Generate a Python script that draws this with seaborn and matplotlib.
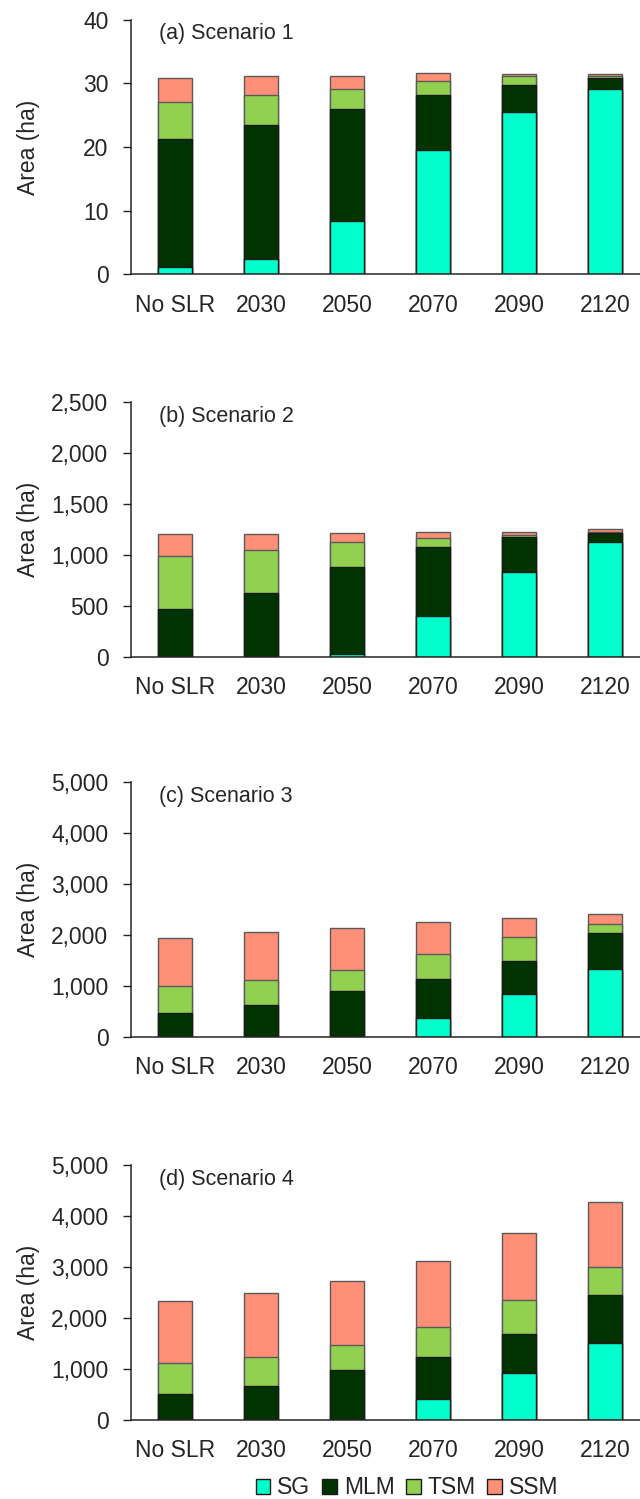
import numpy as np
import pandas as pd
import matplotlib
matplotlib.use("Agg")
import matplotlib.pyplot as plt
from matplotlib.ticker import FuncFormatter, MultipleLocator
from matplotlib.patches import Patch
import seaborn as sns

sns.set_style("ticks")
plt.rcParams["font.family"] = ["Liberation Sans", "DejaVu Sans"]

# Time steps along the x axis
periods = ["No SLR", "2030", "2050", "2070", "2090", "2120"]

# Habitat classes (stacked bottom to top)
classes = ["SG", "MLM", "TSM", "SSM"]
class_colors = {"SG": "#00FFCC", "MLM": "#003300", "TSM": "#92D050", "SSM": "#FF9077"}

# Area (ha) of each class per period, one block per scenario
s1_sg = [1.2, 2.4, 8.4, 19.6, 25.5, 29.1]
s1_mlm = [20.1, 21.1, 17.6, 8.6, 4.2, 1.8]
s1_tsm = [5.8, 4.6, 3.1, 2.1, 1.5, 0.3]
s1_ssm = [3.8, 3.1, 2.1, 1.3, 0.3, 0.3]

s2_sg = [0, 0, 26, 396, 834, 1126]
s2_mlm = [468, 628, 851, 681, 341, 85]
s2_tsm = [523, 422, 252, 91, 19, 15]
s2_ssm = [213, 154, 82, 59, 33, 24]

s3_sg = [0, 0, 20, 380, 839, 1343]
s3_mlm = [465, 623, 884, 754, 649, 695]
s3_tsm = [531, 498, 413, 498, 484, 184]
s3_ssm = [944, 937, 819, 622, 367, 190]

s4_sg = [20, 20, 25, 419, 916, 1505]
s4_mlm = [484, 641, 957, 824, 766, 956]
s4_tsm = [615, 569, 490, 583, 681, 536]
s4_ssm = [1211, 1257, 1257, 1289, 1302, 1290]

panel_titles = ["(a) Scenario 1", "(b) Scenario 2", "(c) Scenario 3", "(d) Scenario 4"]
y_limits = [40, 2500, 5000, 5000]
y_steps = [10, 500, 1000, 1000]

scenarios = [
    (s1_sg, s1_mlm, s1_tsm, s1_ssm),
    (s2_sg, s2_mlm, s2_tsm, s2_ssm),
    (s3_sg, s3_mlm, s3_tsm, s3_ssm),
    (s4_sg, s4_mlm, s4_tsm, s4_ssm),
]

fig = plt.figure(figsize=(6.4, 14.99), dpi=100)

ax_left = 0.2053
ax_width = 1.0 - ax_left
ax_height = 0.1699
ax_bottoms = [0.8170, 0.5619, 0.3082, 0.0527]

fs = 16.5
txt_color = "#262626"

for k, (series, title, ymax, ystep, bottom) in enumerate(
        zip(scenarios, panel_titles, y_limits, y_steps, ax_bottoms)):
    ax = fig.add_axes([ax_left, bottom, ax_width, ax_height])

    df = pd.DataFrame({"period": periods})
    for name, vals in zip(classes, series):
        df[name] = vals
    # cumulative tops so each layer can be drawn from zero, topmost first
    cum = df[classes].cumsum(axis=1)

    for name in reversed(classes):
        edge = "#1a1a1a" if name in ("SG", "MLM") else "#5a5a5a"
        sns.barplot(x=df["period"], y=cum[name], order=periods, ax=ax,
                    color=class_colors[name], saturation=1, width=0.4,
                    edgecolor=edge, linewidth=1.0)

    ax.set_xlim(-0.51, 5.41)
    ax.set_ylim(0, ymax)
    ax.yaxis.set_major_locator(MultipleLocator(ystep))
    ax.yaxis.set_major_formatter(FuncFormatter(lambda v, p: f"{v:,.0f}"))
    ax.set_xlabel("")
    ax.set_ylabel("Area (ha)", fontsize=fs, color=txt_color)
    ax.yaxis.set_label_coords(-0.18, 0.5)

    ax.tick_params(axis="y", direction="out", length=6, width=1.0,
                   color=txt_color, labelsize=fs, labelcolor=txt_color, pad=10.5)
    ax.tick_params(axis="x", length=0, labelsize=fs, labelcolor=txt_color, pad=14)

    sns.despine(ax=ax)
    for sp in ("left", "bottom"):
        ax.spines[sp].set_color(txt_color)
        ax.spines[sp].set_linewidth(1.1)

    ax.text(0.054, 0.945, title, transform=ax.transAxes, fontsize=15.5,
            ha="left", va="center", color=txt_color)

handles = [Patch(facecolor=class_colors[c], edgecolor="#1a1a1a", linewidth=1.0)
           for c in classes]
fig.legend(handles, classes, loc="center", bbox_to_anchor=(0.636, 0.0075),
           ncol=4, frameon=False, fontsize=fs, handlelength=0.65, handleheight=0.65,
           handletextpad=0.3, columnspacing=0.5, labelcolor=txt_color)

fig.savefig("out.png", dpi=100)
